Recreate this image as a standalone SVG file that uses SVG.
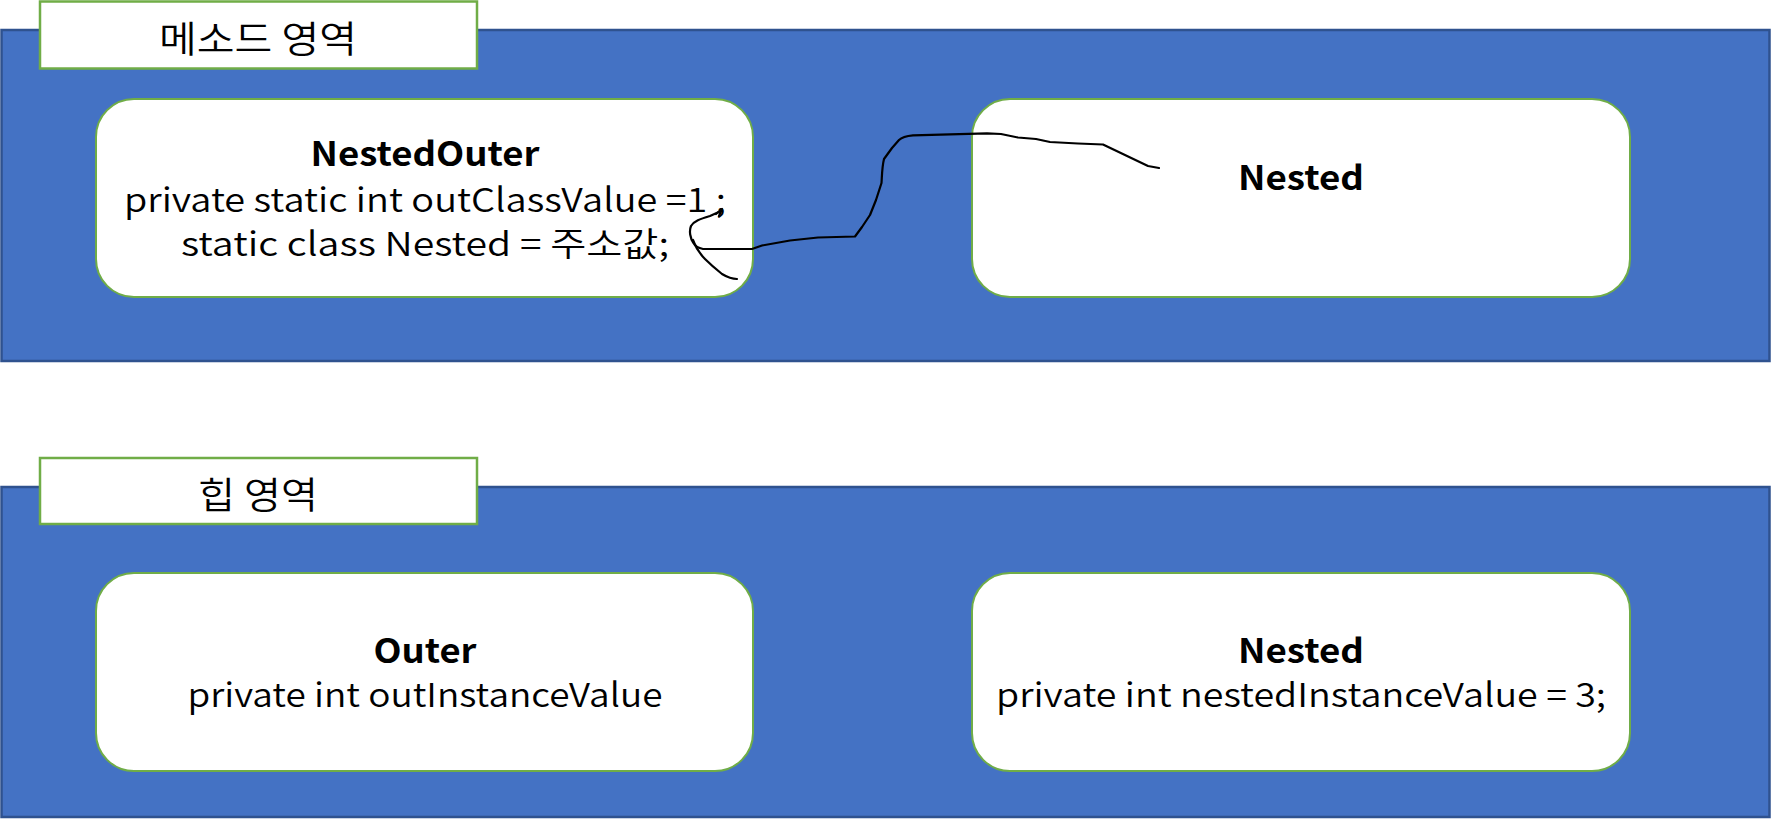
<svg xmlns="http://www.w3.org/2000/svg" width="1771" height="819" viewBox="0 0 1771 819">
  <defs>
    <style>
      .band { fill: #4472C4; stroke: #2F528F; stroke-width: 2.5; }
      .label { fill: #FFFFFF; stroke: #70AD47; stroke-width: 2.5; }
      .node { fill: #FFFFFF; stroke: #70AD47; stroke-width: 2; }
      .t { font-family: "Noto Sans CJK KR", "Noto Sans", sans-serif; font-size: 33px; font-weight: 350; fill: #000000; text-anchor: middle; }
      .b { font-weight: bold; }
      .k { font-family: "Noto Sans CJK KR", sans-serif; font-size: 37px; font-weight: 350; fill: #000000; text-anchor: middle; }
      .ink { fill: none; stroke: #000000; stroke-width: 2.2; stroke-linecap: round; stroke-linejoin: round; }
    </style>
  </defs>
  <rect width="1771" height="819" fill="#FFFFFF"/>

  <g id="method-area">
    <rect class="band" x="1.5" y="30" width="1768" height="331"/>
    <rect class="label" x="40" y="1.5" width="437" height="67"/>
    <text class="k" x="258" y="53" textLength="198" lengthAdjust="spacingAndGlyphs">메소드 영역</text>
  </g>

  <g id="heap-area">
    <rect class="band" x="1.5" y="487" width="1768" height="330"/>
    <rect class="label" x="40" y="458" width="437" height="66"/>
    <text class="k" x="258" y="509" textLength="120" lengthAdjust="spacingAndGlyphs">힙 영역</text>
  </g>

  <g id="node-nestedouter">
    <rect class="node" x="96" y="99" width="657" height="198" rx="38" ry="38"/>
    <text class="t b" x="425" y="166" textLength="229" lengthAdjust="spacingAndGlyphs">NestedOuter</text>
    <text class="t" x="425" y="212" textLength="602" lengthAdjust="spacingAndGlyphs">private static int outClassValue =1 ;</text>
    <text class="t" x="425" y="256" textLength="488" lengthAdjust="spacingAndGlyphs">static class Nested = 주소값;</text>
  </g>

  <g id="node-nested-method">
    <rect class="node" x="972" y="99" width="658" height="198" rx="38" ry="38"/>
    <text class="t b" x="1301" y="190" textLength="126" lengthAdjust="spacingAndGlyphs">Nested</text>
  </g>

  <g id="node-outer">
    <rect class="node" x="96" y="573" width="657" height="198" rx="38" ry="38"/>
    <text class="t b" x="425" y="663" textLength="103" lengthAdjust="spacingAndGlyphs">Outer</text>
    <text class="t" x="425" y="707" textLength="475" lengthAdjust="spacingAndGlyphs">private int outInstanceValue</text>
  </g>

  <g id="node-nested-heap">
    <rect class="node" x="972" y="573" width="658" height="198" rx="38" ry="38"/>
    <text class="t b" x="1301" y="663" textLength="126" lengthAdjust="spacingAndGlyphs">Nested</text>
    <text class="t" x="1301" y="707" textLength="610" lengthAdjust="spacingAndGlyphs">private int nestedInstanceValue = 3;</text>
  </g>

  <g id="connectors">
    <path class="ink" d="M1159,168 L1148,166 L1103,144.5 L1078,143.5 L1050,142 L1036,139 L1018,137.5 L1001,134 L987,133.3 L913,135.3 C905,136 901,138 899,140 L892,148 L884,159 C882,167 882,176 881.5,183 L876,200 L870,215 L862,227 L855,236.5 L818,237.5 L790,240.5 L762,245.5 L752,249 L703,249 C698,248 695,246 693.5,243 C690,238 689,231 691,226 C694,221 700,219 710,216 L721,211"/>
    <path class="ink" d="M716,214 L722,209 L719,216"/>
    <path class="ink" d="M693,240 C696,248 700,254 705,259 C711,265 717,270 722,274 C727,277 731,279 737,279"/>
  </g>
</svg>
